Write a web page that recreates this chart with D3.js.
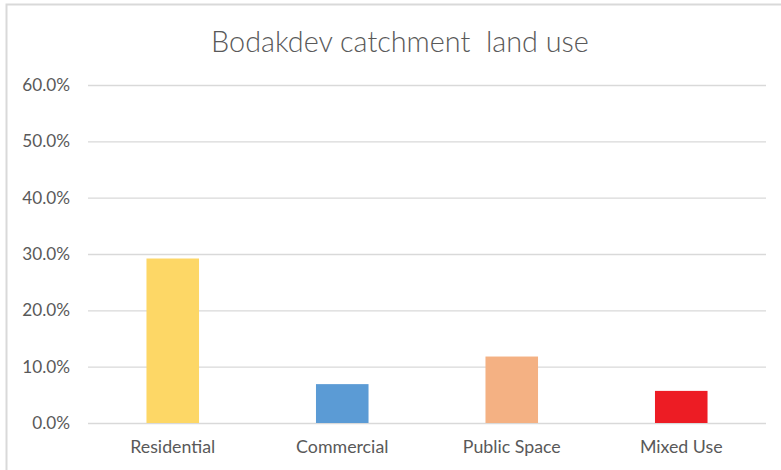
<!DOCTYPE html>
<html>
<head>
<meta charset="utf-8">
<script src="https://cdn.jsdelivr.net/npm/d3@7"></script>
<style>
  html, body { margin: 0; padding: 0; background: #fff; }
  svg { display: block; }
  text { font-family: Lato, "Open Sans", sans-serif; }
</style>
</head>
<body>
<svg id="chart" width="781" height="470"></svg>
<script>
// Land-use shares in the Bodakdev catchment
const categories = ["Residential", "Commercial", "Public Space", "Mixed Use"];
const shares = [0.292, 0.069, 0.118, 0.057];
const barColors = ["#FDD766", "#5B9BD5", "#F4B183", "#ED1C24"];
const tickValues = [0, 0.1, 0.2, 0.3, 0.4, 0.5, 0.6];
const titleText = "Bodakdev catchment\u00a0 land use";

const svg = d3.select("#chart");

// Chart area frame (only the top and left edges fall inside the window)
svg.append("rect")
  .attr("x", 6.5).attr("y", 4.5)
  .attr("width", 800).attr("height", 480)
  .attr("fill", "#fff")
  .attr("stroke", "#d9d9d9")
  .attr("stroke-width", 2);

const plot = { left: 88, right: 766, top: 85, bottom: 423 };

const x = d3.scaleBand()
  .domain(categories)
  .range([plot.left, plot.right])
  .paddingInner(0.69)
  .paddingOuter(0.345);

const y = d3.scaleLinear()
  .domain([0, 0.6])
  .range([plot.bottom, plot.top]);

// Horizontal gridlines with percentage labels
const yAxis = d3.axisLeft(y)
  .tickValues(tickValues)
  .tickFormat(d3.format(".1%"))
  .tickSize(-(plot.right - plot.left))
  .tickPadding(18);

const gy = svg.append("g")
  .attr("transform", `translate(${plot.left},0)`)
  .call(yAxis);
gy.select(".domain").remove();
gy.selectAll(".tick line")
  .attr("stroke", "#d9d9d9")
  .attr("stroke-width", 1.3);
gy.selectAll(".tick text")
  .attr("fill", "#595959")
  .style("font-family", "Lato, 'Open Sans', sans-serif")
  .style("font-size", "17.2px");

// Bars
svg.append("g")
  .selectAll("rect")
  .data(categories)
  .join("rect")
  .attr("x", d => x(d))
  .attr("width", x.bandwidth())
  .attr("y", (d, i) => y(shares[i]))
  .attr("height", (d, i) => y(0) - y(shares[i]))
  .attr("fill", (d, i) => barColors[i]);

// Category axis labels
const xAxis = d3.axisBottom(x).tickSize(0).tickPadding(17.5);
const gx = svg.append("g")
  .attr("transform", `translate(0,${plot.bottom})`)
  .call(xAxis);
gx.select(".domain").remove();
gx.selectAll(".tick text")
  .attr("fill", "#595959")
  .style("font-family", "Lato, 'Open Sans', sans-serif")
  .style("font-size", "17.8px");

// Title
svg.append("text")
  .attr("x", 400)
  .attr("y", 52)
  .attr("text-anchor", "middle")
  .attr("fill", "#595959")
  .style("font-size", "28.8px")
  .style("font-weight", 300)
  .text(titleText);
</script>
</body>
</html>
